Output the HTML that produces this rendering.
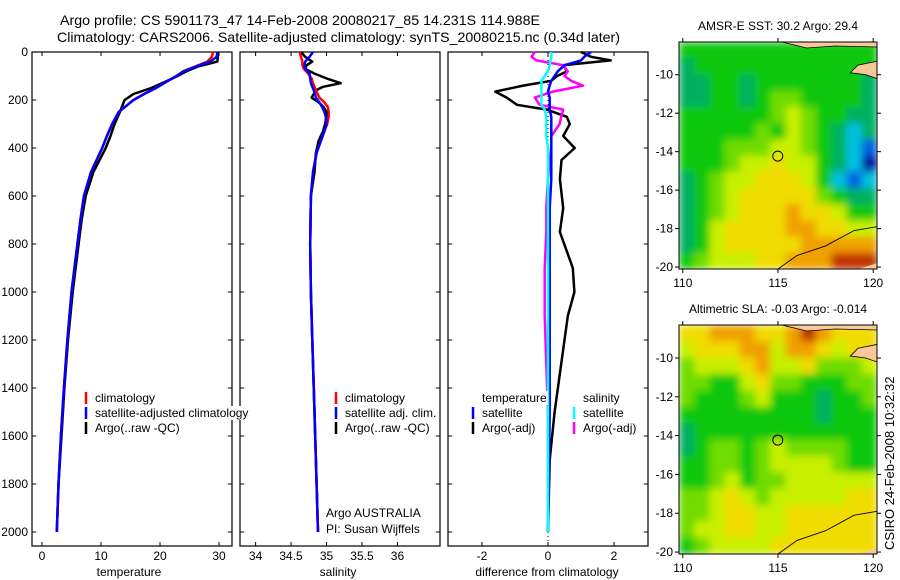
<!DOCTYPE html>
<html><head><meta charset="utf-8"><style>
html,body{margin:0;padding:0;background:#fff;}
svg{display:block;font-family:"Liberation Sans",sans-serif;}
</style></head><body>
<svg id="c" width="900" height="580" viewBox="0 0 900 580" xmlns="http://www.w3.org/2000/svg">
<defs>
<filter id="soft" x="0" y="0" width="1" height="1"><feGaussianBlur stdDeviation="4" edgeMode="duplicate"/></filter>
<clipPath id="clip1"><rect x="679" y="42" width="198" height="227"/></clipPath>
<clipPath id="clip2"><rect x="679" y="325" width="198" height="229"/></clipPath>
</defs>
<text x="60" y="25" font-size="14" textLength="480" lengthAdjust="spacingAndGlyphs">Argo profile: CS 5901173_47 14-Feb-2008 20080217_85 14.231S 114.988E</text>
<text x="57" y="42" font-size="14" textLength="563" lengthAdjust="spacingAndGlyphs">Climatology: CARS2006. Satellite-adjusted climatology: synTS_20080215.nc (0.34d later)</text>
<g id="g"></g>
<text transform="translate(894,550) rotate(-90)" font-size="13">CSIRO 24-Feb-2008 10:32:32</text>
</svg>
<script>
// ---- data ----
const tDepth=[0,20,40,60,80,100,125,150,175,200,250,300,350,400,500,600,700,800,1000,1200,1400,1600,1800,2000];
const climT=[29.0,28.8,28.0,26,24,22.8,21,19.3,17.3,15.5,13,11.9,11,10.2,8.3,7.1,6.5,6,5,4.3,3.7,3.2,2.8,2.5];
const satT=[29.7,29.6,28.5,26.2,24,22.8,21,19.3,17.3,15.5,13,11.9,11,10.2,8.3,7.1,6.5,6,5,4.3,3.7,3.2,2.8,2.5];
const argoT=[29.8,29.8,29.7,26.5,24.5,23.0,20.8,18.5,15.5,14.0,13.2,12.3,11.6,10.8,8.7,7.4,6.7,6.2,5.2,4.4,3.8,3.3,2.8,2.5];
const sDepth=[0,20,40,55,70,90,110,130,145,160,190,210,230,250,270,300,330,370,420,500,600,800,1000,1200,1500,1800,2000];
const argoS=[34.64,34.7,34.8,34.72,34.7,34.83,35.0,35.2,34.95,34.85,34.79,34.89,34.96,35.0,35.0,34.98,34.95,34.89,34.85,34.83,34.78,34.77,34.78,34.8,34.83,34.86,34.88];
const climS=[34.62,34.64,34.66,34.66,34.68,34.74,34.79,34.81,34.83,34.85,34.9,34.97,35.02,35.03,35.03,35.01,34.97,34.92,34.86,34.81,34.78,34.77,34.78,34.8,34.83,34.86,34.88];
const satS=[34.81,34.76,34.7,34.69,34.7,34.76,34.77,34.78,34.8,34.82,34.85,34.9,34.94,34.97,34.99,35.0,34.97,34.92,34.86,34.81,34.78,34.77,34.78,34.8,34.83,34.86,34.88];
const dDepth=[0,20,35,55,80,100,120,140,165,190,220,240,270,300,350,400,450,530,650,750,900,1000,1100,1300,1500,1700,2000];
const argoTdiff=[1.0,1.3,1.9,0.46,0.58,0.28,0.1,-0.75,-1.6,-1.25,-0.94,-0.04,0.57,0.66,0.46,0.81,0.41,0.36,0.46,0.36,0.75,0.8,0.6,0.4,0.2,0.05,0.0];
const satTdiff=[1.3,1.1,1.0,0.5,0.3,0.2,0.1,0.05,0.0,0.05,0.05,0.05,0.1,0.1,0.1,0.1,0.1,0.1,0.05,0.05,0.05,0.05,0.05,0.05,0.05,0.03,0.0];
const argoSdiff=[-0.4,-0.5,-0.35,0.46,0.6,0.5,0.7,1.06,0.15,-0.4,-0.25,0.46,0.4,0.35,0.1,0.1,0.05,0.0,-0.05,-0.05,-0.1,-0.1,-0.1,-0.05,0,0,0];
const satSdiff=[0.1,0.1,0.08,0.05,0.0,-0.1,-0.2,-0.2,-0.2,-0.2,-0.2,-0.1,-0.05,-0.05,-0.05,0,0,0,0,0,0,0,0,0,0,0,0];
const depthTicks=[0,200,400,600,800,1000,1200,1400,1600,1800,2000];
const tempTicks=[0,10,20,30];
const salTicks=[34,34.5,35,35.5,36];
const diffTicks=[-2,0,2];
const sstGrid=[
"4444444444444","3444444444444","3344344444443","3344345544443","4444445654433",
"4444454654323","4445556654321","4445667664320","3456677764212","3456777775433",
"3456777877644","3467777887766","3467777788888","4566677888999"];
const slaGrid=[
"7788877898777","6777886887677","5666786675556","5544675544455","5444564443445",
"4444444443444","3444444444444","3455456555544","4455456666544","4456455666666",
"5567656666677","5567766777777","5667766777777","4566667777777"];
const latTicks=[-10,-12,-14,-16,-18,-20];
const lonTicks=[110,115,120];
// ---- drawing ----
const NS="http://www.w3.org/2000/svg";
const G=document.getElementById('g');
function mk(tag,at,parent){const e=document.createElementNS(NS,tag);for(const k in at)e.setAttribute(k,at[k]);(parent||G).appendChild(e);return e;}
const top0=52,bot=546;
const yD=d=>top0+d*0.24;
const panels=[
 {name:'temperature',x0:32,x1:232,v0:-1.7,v1:32.2,ticks:tempTicks,label:'temperature',lx:129},
 {name:'salinity',x0:240,x1:440,v0:33.78,v1:36.6,ticks:salTicks,label:'salinity',lx:338},
 {name:'difference',x0:448,x1:648,v0:-3.03,v1:3.03,ticks:diffTicks,label:'difference from climatology',lx:547}];
panels.forEach(p=>{p.sx=v=>p.x0+(v-p.v0)/(p.v1-p.v0)*(p.x1-p.x0);});
function line(p,depths,vals,color,name,w){
 const pts=depths.map((d,i)=>p.sx(vals[i]).toFixed(1)+','+yD(d).toFixed(1)).join(' ');
 const e=mk('polyline',{points:pts,fill:'none',stroke:color,'stroke-width':w||2.5,'stroke-linejoin':'round'});
 
 
}
panels.forEach((p,pi)=>{
 const fr=mk('rect',{x:p.x0,y:top0,width:p.x1-p.x0,height:bot-top0,fill:'none',stroke:'#000','stroke-width':1.2});
 
 
 p.ticks.forEach(t=>{
  const x=p.sx(t);
  mk('line',{x1:x,x2:x,y1:bot,y2:bot-4,stroke:'#000'});
  mk('line',{x1:x,x2:x,y1:top0,y2:top0+4,stroke:'#000'});
  const tl=mk('text',{x:x,y:560,'font-size':12,'text-anchor':'middle'});tl.textContent=t;
  
  
 });
 depthTicks.forEach(d=>{
  mk('line',{x1:p.x0,x2:p.x0+4,y1:yD(d),y2:yD(d),stroke:'#000'});
  mk('line',{x1:p.x1,x2:p.x1-4,y1:yD(d),y2:yD(d),stroke:'#000'});
  if(pi===0){const tl=mk('text',{x:28,y:yD(d)+4,'font-size':12,'text-anchor':'end'});tl.textContent=d;
   
   }
 });
 const xl=mk('text',{x:p.lx,y:576,'font-size':12,'text-anchor':'middle'});xl.textContent=p.label;
 
 
});
const [P1,P2,P3]=panels;
line(P1,tDepth,argoT,'#000','argo-temperature-line');
line(P1,tDepth,climT,'#f00','climatology-temperature-line');
line(P1,tDepth,satT,'#00f','satellite-temperature-line');
line(P2,sDepth,argoS,'#000','argo-salinity-line');
line(P2,sDepth,climS,'#f00','climatology-salinity-line');
line(P2,sDepth,satS,'#00f','satellite-salinity-line');
const z=mk('line',{x1:P3.sx(0),x2:P3.sx(0),y1:top0,y2:bot,stroke:'#000','stroke-dasharray':'1,3'});


line(P3,dDepth,argoTdiff,'#000','argo-temp-diff-line');
line(P3,dDepth,argoSdiff,'#f0f','argo-sal-diff-line');
line(P3,dDepth,satTdiff,'#00f','satellite-temp-diff-line');
line(P3,dDepth,satSdiff,'#0ff','satellite-sal-diff-line');
function legend(x,y,color,text,name,bg){
 const t=mk('text',{x:x+9,y:y+4,'font-size':12});t.textContent=text;
 
 
 if(bg){const bb=t.getBBox();mk('rect',{x:bb.x-1,y:bb.y,width:bb.width+2,height:bb.height,fill:'#fff'});G.appendChild(t);}
 if(color){mk('line',{x1:x,x2:x,y1:y-6,y2:y+6,stroke:color,'stroke-width':2.5});}
}
legend(86,398,'#f00','climatology','legend-climatology',1);
legend(86,413,'#00f','satellite-adjusted climatology','legend-satellite-adjusted',1);
legend(86,428,'#000','Argo(..raw -QC)','legend-argo',1);
legend(336,398,'#f00','climatology','legend-sal-climatology',1);
legend(336,413,'#00f','satellite adj. clim.','legend-sal-satellite',1);
legend(336,428,'#000','Argo(..raw -QC)','legend-sal-argo',1);
legend(473,398,null,'temperature','legend-temperature-header',1);
legend(473,413,'#00f','satellite','legend-temp-satellite',1);
legend(473,428,'#000','Argo(-adj)','legend-temp-argo',1);
legend(574,398,null,'salinity','legend-salinity-header',1);
legend(574,413,'#0ff','satellite','legend-sal-satellite-diff',1);
legend(574,428,'#f0f','Argo(-adj)','legend-sal-argo-diff',1);
legend(317,513,null,'Argo AUSTRALIA','argo-australia-label',0);
legend(317,529,null,'PI: Susan Wijffels','pi-label',0);
// ---- maps ----
const pal=['#0010a0','#0060e0','#00c0e0','#00b060','#10c810','#70dc00','#c8f000','#f0dc00','#f0a000','#c03000'];
function map(y0,y1,grid,title,name,clip){
 const x0=679,x1=877,lat0=-8.3,lat1=-20.1,lon0=109.8,lon1=120.2;
 const sx=v=>x0+(v-lon0)/(lon1-lon0)*(x1-x0), sy=v=>y0+(v-lat0)/(lat1-lat0)*(y1-y0);
 const rows=grid.length,cols=grid[0].length,cw=(x1-x0)/cols,ch=(y1-y0)/rows;
 const cg=mk('g',{'clip-path':'url(#'+clip+')'});
 const fg=mk('g',{filter:'url(#soft)'},cg);
 grid.forEach((r,i)=>{for(let j=0;j<cols;j++){
  const c=mk('rect',{x:x0+j*cw,y:y0+i*ch,width:cw+0.5,height:ch+0.5,fill:pal[+r[j]]},fg);
  
  
 }});
 mk('path',{d:`M${sx(115.2)},${y0} L${sx(120.2)},${y0} L${sx(120.2)},${y0+5} L${sx(118)},${y0+4} L${sx(116.5)},${y0+6} Z`,fill:'#f8c898',stroke:'#000','stroke-width':0.8},cg);
 mk('path',{d:`M${sx(120.2)},${sy(-9.3)} L${sx(119.2)},${sy(-9.5)} L${sx(118.8)},${sy(-9.9)} L${sx(119.6)},${sy(-10.0)} L${sx(120.2)},${sy(-10.2)} Z`,fill:'#f8c898',stroke:'#000','stroke-width':0.8},cg);
 mk('path',{d:`M${sx(120.2)},${sy(-19.8)} L${sx(119.2)},${sy(-20.1)} L${sx(120.2)},${sy(-20.1)} Z`,fill:'#f8c898'},cg);
 mk('polyline',{points:`${sx(120.2)},${sy(-17.9)} ${sx(119)},${sy(-18.1)} ${sx(117.5)},${sy(-18.9)} ${sx(116)},${sy(-19.4)} ${sx(115)},${sy(-20.1)}`,fill:'none',stroke:'#000','stroke-width':0.9},cg);
 const fr=mk('rect',{x:x0,y:y0,width:x1-x0,height:y1-y0,fill:'none',stroke:'#000','stroke-width':1});
 
 
 const ci=mk('circle',{cx:sx(114.988),cy:sy(-14.231),r:5,fill:'none',stroke:'#000','stroke-width':1});
 
 
 latTicks.forEach(l=>{const y=sy(l);mk('line',{x1:x0-4,x2:x0,y1:y,y2:y,stroke:'#000'});mk('line',{x1:x1,x2:x1+4,y1:y,y2:y,stroke:'#000'});
  const t=mk('text',{x:x0-6,y:y+4,'font-size':12,'text-anchor':'end'});t.textContent=l;
  
  });
 lonTicks.forEach(l=>{const x=sx(l);mk('line',{x1:x,x2:x,y1:y1,y2:y1+4,stroke:'#000'});mk('line',{x1:x,x2:x,y1:y0-4,y2:y0,stroke:'#000'});
  const t=mk('text',{x:x,y:y1+18,'font-size':12,'text-anchor':'middle'});t.textContent=l;
  
  });
 const tt=mk('text',{x:(x0+x1)/2+0,y:y0-12,'font-size':12,'text-anchor':'middle'});tt.textContent=title;
 
 
}
map(42,269,sstGrid,'AMSR-E SST: 30.2 Argo: 29.4','sst-map','clip1');
map(325,554,slaGrid,'Altimetric SLA: -0.03 Argo: -0.014','sla-map','clip2');
</script>
</body></html>
